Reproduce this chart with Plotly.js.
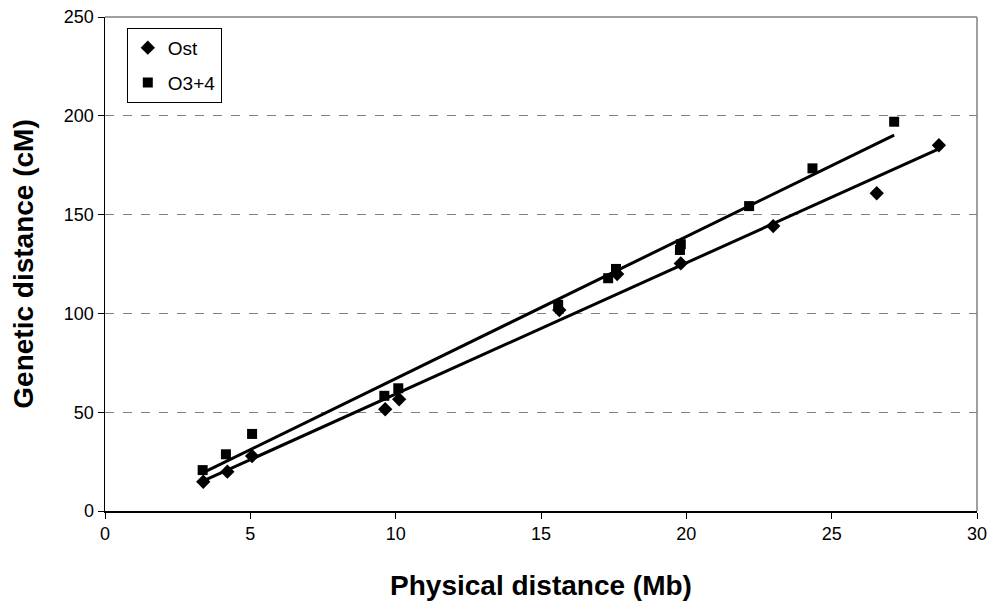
<!DOCTYPE html>
<html><head><meta charset="utf-8">
<script src="https://cdn.plot.ly/plotly-3.0.1.min.js"></script>
<style>html,body{margin:0;padding:0;background:#fff}#chart{width:993px;height:607px}</style>
</head><body><div id="chart"></div>
<script>
const ostX = [3.38, 4.21, 5.06, 9.64, 10.12, 15.63, 17.62, 19.81, 22.99, 26.55, 28.69];
const ostY = [14.8, 19.9, 27.8, 51.5, 56.5, 101.7, 119.9, 125.3, 144.2, 160.8, 185.1];
const o34X = [3.36, 4.16, 5.06, 9.61, 10.09, 15.59, 17.31, 17.58, 19.78, 19.81, 22.16, 24.34, 27.15];
const o34Y = [20.7, 28.7, 39.0, 58.3, 62.1, 104.3, 117.8, 122.5, 132.1, 135.0, 154.3, 173.4, 197.0];
const xTicks = [0, 5, 10, 15, 20, 25, 30];
const yTicks = [0, 50, 100, 150, 200, 250];

function fit(xs, ys) {
  const n = xs.length;
  const mx = xs.reduce((a, b) => a + b, 0) / n;
  const my = ys.reduce((a, b) => a + b, 0) / n;
  let sxy = 0, sxx = 0;
  for (let i = 0; i < n; i++) { sxy += (xs[i] - mx) * (ys[i] - my); sxx += (xs[i] - mx) ** 2; }
  const m = sxy / sxx, b = my - m * mx;
  const x0 = Math.min(...xs), x1 = Math.max(...xs);
  return {x: [x0, x1], y: [m * x0 + b, m * x1 + b]};
}
const fOst = fit(ostX, ostY), fO34 = fit(o34X, o34Y);

const traces = [
  {x: fOst.x, y: fOst.y, mode: 'lines', line: {color: '#000', width: 3}, showlegend: false, hoverinfo: 'skip'},
  {x: fO34.x, y: fO34.y, mode: 'lines', line: {color: '#000', width: 3}, showlegend: false, hoverinfo: 'skip'},
  {x: ostX, y: ostY, mode: 'markers', name: 'Ost', legendgroup: 'a', marker: {symbol: 'diamond', size: 11, color: '#000'}},
  {x: o34X, y: o34Y, mode: 'markers', name: 'O3+4', legendgroup: 'b', marker: {symbol: 'square', size: 10, color: '#000'}}
];

const layout = {
  width: 993, height: 607,
  margin: {l: 105, r: 16, t: 17, b: 96},
  paper_bgcolor: '#fff', plot_bgcolor: '#fff',
  font: {family: 'Liberation Sans, Arial, sans-serif', size: 18, color: '#000'},
  xaxis: {
    range: [0, 30], tickvals: xTicks, ticktext: xTicks.map(String),
    showgrid: false, zeroline: false, showline: true, linecolor: '#000', linewidth: 1.5,
    ticks: 'outside', ticklen: 6, tickcolor: '#000', tickfont: {size: 18},
    title: {text: '<b>Physical distance (Mb)</b>', font: {size: 28}, standoff: 32}
  },
  yaxis: {
    range: [0, 250], tickvals: yTicks, ticktext: yTicks.map(String),
    showgrid: true, gridcolor: '#808080', griddash: 'dash', gridwidth: 1,
    zeroline: false, showline: true, linecolor: '#000', linewidth: 1.5,
    ticks: 'outside', ticklen: 6, tickcolor: '#000', tickfont: {size: 18},
    title: {text: '<b>Genetic distance (cM)</b>', font: {size: 28}, standoff: 22}
  },
  shapes: [
    {type: 'line', xref: 'paper', yref: 'paper', x0: 0, x1: 1, y0: 1, y1: 1, line: {color: '#808080', width: 1.5}},
    {type: 'line', xref: 'paper', yref: 'paper', x0: 1, x1: 1, y0: 0, y1: 1, line: {color: '#808080', width: 1.5}}
  ],
  showlegend: true,
  legend: {x: 0.025, y: 0.978, xanchor: 'left', yanchor: 'top', bgcolor: '#fff', bordercolor: '#000', borderwidth: 1,
    font: {size: 19}, itemwidth: 30, traceorder: 'grouped', tracegroupgap: 7}
};
Plotly.newPlot('chart', traces, layout, {displayModeBar: false, staticPlot: true});
</script></body></html>
